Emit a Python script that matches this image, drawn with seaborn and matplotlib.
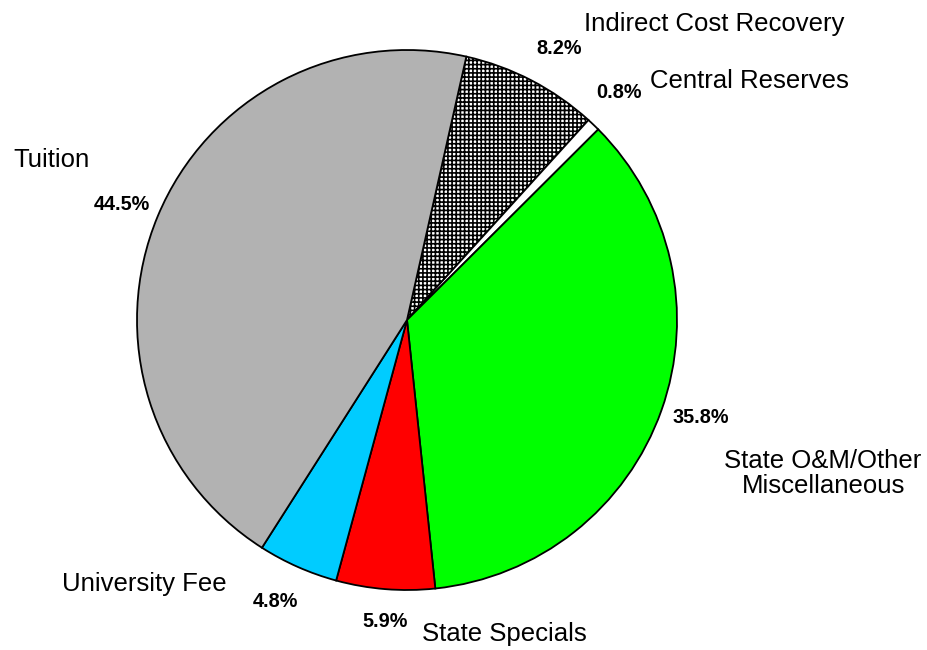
import matplotlib
matplotlib.use("Agg")
import matplotlib.pyplot as plt
import seaborn as sns

# slices, clockwise from the top
names = ["Indirect Cost Recovery", "Central Reserves", "State O&M/Other\nMiscellaneous",
         "State Specials", "University Fee", "Tuition"]
shares = [8.2, 0.8, 35.8, 5.9, 4.8, 44.5]
pct_text = ["8.2%", "0.8%", "35.8%", "5.9%", "4.8%", "44.5%"]

colors = ["white", "white", "#00ff00", "#ff0000", "#00ccff", "#b2b2b2"]
hatches = ["++++", None, None, None, None, None]

# label layout in pie units (radius 1, centre 0,0)
name_xy = [(0.656, 1.096, "left"), (0.900, 0.885, "left"), (1.541, -0.570, "center"),
           (0.056, -1.163, "left"), (-1.278, -0.976, "left"), (-1.459, 0.593, "left")]
pct_xy = [(0.563, 1.004), (0.787, 0.844), (1.089, -0.361),
          (-0.083, -1.117), (-0.489, -1.043), (-1.057, 0.428)]

sns.set_style("white")
plt.rcParams["font.family"] = ["Liberation Sans", "DejaVu Sans"]
plt.rcParams["text.color"] = "black"
plt.rcParams["hatch.linewidth"] = 1.2

fig = plt.figure(figsize=(9.28, 6.5), dpi=100)
ax = fig.add_axes([0, 0, 1, 1])

wedges, _ = ax.pie(shares, colors=colors, startangle=77.3, counterclock=False,
                   radius=1.0, wedgeprops=dict(edgecolor="black", linewidth=1.3))
for w, h in zip(wedges, hatches):
    if h:
        w.set_hatch(h)

for (x, y, ha), name in zip(name_xy, names):
    ax.text(x, y, name, ha=ha, va="center", fontsize=18.5, multialignment="center",
            linespacing=1.05)
for (x, y), p in zip(pct_xy, pct_text):
    ax.text(x, y, p, ha="center", va="center", fontsize=14.3, fontweight="bold")

ax.set_xlim(-407 / 270, (928 - 407) / 270)
ax.set_ylim((320 - 650) / 270, 320 / 270)
ax.set_aspect("equal")
ax.axis("off")

fig.savefig("out.png", dpi=100)
